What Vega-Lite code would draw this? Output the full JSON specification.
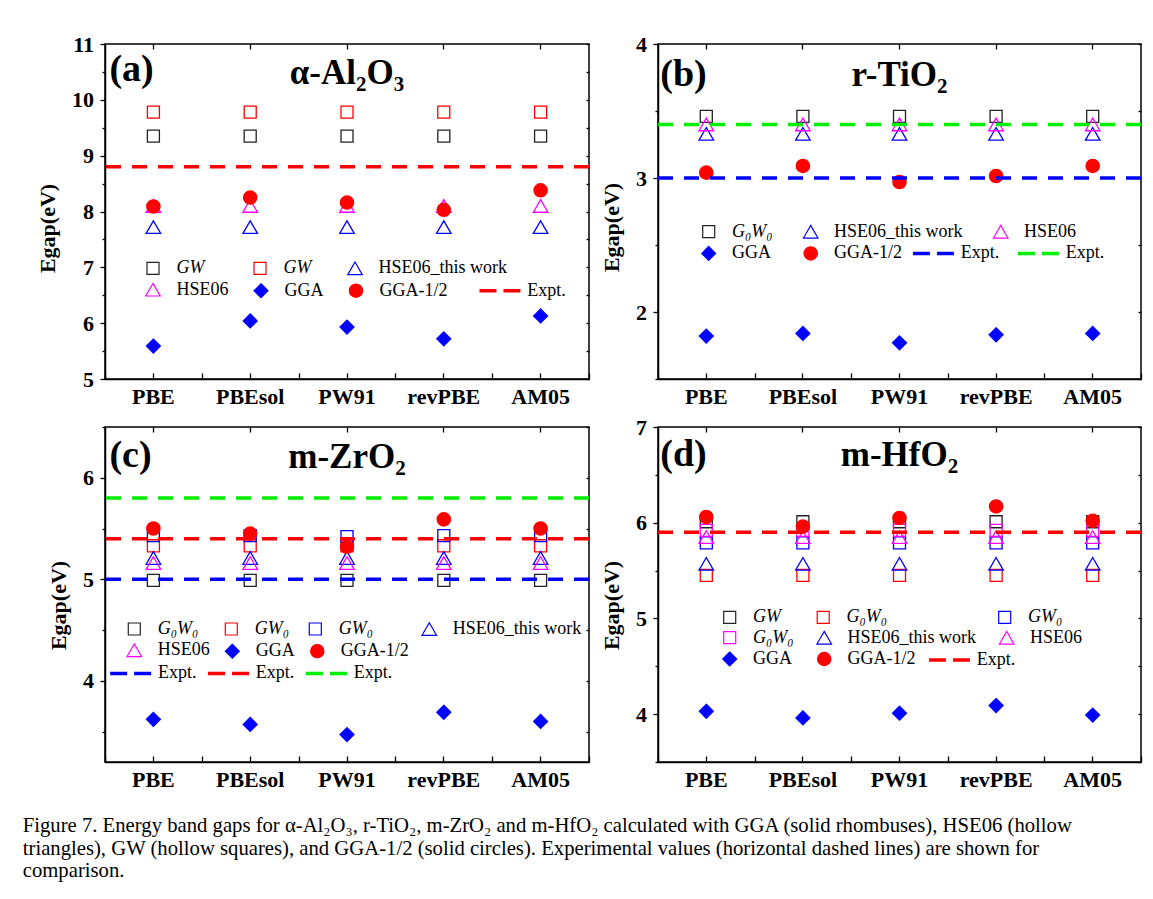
{
  "$schema": "https://vega.github.io/schema/vega-lite/v6.json",
  "background": "white",
  "padding": {"left": 22, "top": 32, "right": 5, "bottom": 5},
  "title": {
    "text": ["Figure 7. Energy band gaps for α-Al₂O₃, r-TiO₂, m-ZrO₂ and m-HfO₂ calculated with GGA (solid rhombuses), HSE06 (hollow", "triangles), GW (hollow squares), and GGA-1/2 (solid circles). Experimental values (horizontal dashed lines) are shown for", "comparison."],
    "orient": "bottom", "anchor": "start", "frame": "bounds", "dx": -13, "offset": 25,
    "font": "Liberation Serif", "fontSize": 20.7, "fontWeight": "normal", "lineHeight": 22.5, "color": "black"
  },
  "columns": 2,
  "spacing": {"row": 48, "column": 69},
  "bounds": "flush",
  "datasets": {
    "a_pts": [
      {"func": "PBE", "series": "GW#1", "Eg": 9.35}, {"func": "PBEsol", "series": "GW#1", "Eg": 9.35}, {"func": "PW91", "series": "GW#1", "Eg": 9.35}, {"func": "revPBE", "series": "GW#1", "Eg": 9.35}, {"func": "AM05", "series": "GW#1", "Eg": 9.35},
      {"func": "PBE", "series": "GW#2", "Eg": 9.78}, {"func": "PBEsol", "series": "GW#2", "Eg": 9.78}, {"func": "PW91", "series": "GW#2", "Eg": 9.78}, {"func": "revPBE", "series": "GW#2", "Eg": 9.78}, {"func": "AM05", "series": "GW#2", "Eg": 9.78},
      {"func": "PBE", "series": "HSE06_this work", "Eg": 7.72}, {"func": "PBEsol", "series": "HSE06_this work", "Eg": 7.72}, {"func": "PW91", "series": "HSE06_this work", "Eg": 7.72}, {"func": "revPBE", "series": "HSE06_this work", "Eg": 7.72}, {"func": "AM05", "series": "HSE06_this work", "Eg": 7.72},
      {"func": "PBE", "series": "HSE06", "Eg": 8.1}, {"func": "PBEsol", "series": "HSE06", "Eg": 8.1}, {"func": "PW91", "series": "HSE06", "Eg": 8.1}, {"func": "revPBE", "series": "HSE06", "Eg": 8.1}, {"func": "AM05", "series": "HSE06", "Eg": 8.1},
      {"func": "PBE", "series": "GGA", "Eg": 5.59}, {"func": "PBEsol", "series": "GGA", "Eg": 6.04}, {"func": "PW91", "series": "GGA", "Eg": 5.93}, {"func": "revPBE", "series": "GGA", "Eg": 5.72}, {"func": "AM05", "series": "GGA", "Eg": 6.13},
      {"func": "PBE", "series": "GGA-1/2", "Eg": 8.09}, {"func": "PBEsol", "series": "GGA-1/2", "Eg": 8.25}, {"func": "PW91", "series": "GGA-1/2", "Eg": 8.16}, {"func": "revPBE", "series": "GGA-1/2", "Eg": 8.03}, {"func": "AM05", "series": "GGA-1/2", "Eg": 8.38}
    ],
    "a_exp": [{"expt": "Expt.#r", "Eg": 8.8}],
    "b_pts": [
      {"func": "PBE", "series": "G₀W₀", "Eg": 3.46}, {"func": "PBEsol", "series": "G₀W₀", "Eg": 3.46}, {"func": "PW91", "series": "G₀W₀", "Eg": 3.46}, {"func": "revPBE", "series": "G₀W₀", "Eg": 3.46}, {"func": "AM05", "series": "G₀W₀", "Eg": 3.46},
      {"func": "PBE", "series": "HSE06_this work", "Eg": 3.33}, {"func": "PBEsol", "series": "HSE06_this work", "Eg": 3.33}, {"func": "PW91", "series": "HSE06_this work", "Eg": 3.33}, {"func": "revPBE", "series": "HSE06_this work", "Eg": 3.33}, {"func": "AM05", "series": "HSE06_this work", "Eg": 3.33},
      {"func": "PBE", "series": "HSE06", "Eg": 3.4}, {"func": "PBEsol", "series": "HSE06", "Eg": 3.4}, {"func": "PW91", "series": "HSE06", "Eg": 3.4}, {"func": "revPBE", "series": "HSE06", "Eg": 3.4}, {"func": "AM05", "series": "HSE06", "Eg": 3.4},
      {"func": "PBE", "series": "GGA", "Eg": 1.82}, {"func": "PBEsol", "series": "GGA", "Eg": 1.84}, {"func": "PW91", "series": "GGA", "Eg": 1.77}, {"func": "revPBE", "series": "GGA", "Eg": 1.83}, {"func": "AM05", "series": "GGA", "Eg": 1.84},
      {"func": "PBE", "series": "GGA-1/2", "Eg": 3.04}, {"func": "PBEsol", "series": "GGA-1/2", "Eg": 3.09}, {"func": "PW91", "series": "GGA-1/2", "Eg": 2.97}, {"func": "revPBE", "series": "GGA-1/2", "Eg": 3.015}, {"func": "AM05", "series": "GGA-1/2", "Eg": 3.09}
    ],
    "b_exp": [{"expt": "Expt.#b", "Eg": 3.0}, {"expt": "Expt.#g", "Eg": 3.4}],
    "c_pts": [
      {"func": "PBE", "series": "G₀W₀", "Eg": 4.99}, {"func": "PBEsol", "series": "G₀W₀", "Eg": 4.99}, {"func": "PW91", "series": "G₀W₀", "Eg": 4.99}, {"func": "revPBE", "series": "G₀W₀", "Eg": 4.99}, {"func": "AM05", "series": "G₀W₀", "Eg": 4.99},
      {"func": "PBE", "series": "GW₀#r", "Eg": 5.33}, {"func": "PBEsol", "series": "GW₀#r", "Eg": 5.33}, {"func": "PW91", "series": "GW₀#r", "Eg": 5.33}, {"func": "revPBE", "series": "GW₀#r", "Eg": 5.33}, {"func": "AM05", "series": "GW₀#r", "Eg": 5.33},
      {"func": "PBE", "series": "GW₀#b", "Eg": 5.43}, {"func": "PBEsol", "series": "GW₀#b", "Eg": 5.43}, {"func": "PW91", "series": "GW₀#b", "Eg": 5.42}, {"func": "revPBE", "series": "GW₀#b", "Eg": 5.43}, {"func": "AM05", "series": "GW₀#b", "Eg": 5.43},
      {"func": "PBE", "series": "HSE06_this work", "Eg": 5.21}, {"func": "PBEsol", "series": "HSE06_this work", "Eg": 5.21}, {"func": "PW91", "series": "HSE06_this work", "Eg": 5.21}, {"func": "revPBE", "series": "HSE06_this work", "Eg": 5.21}, {"func": "AM05", "series": "HSE06_this work", "Eg": 5.21},
      {"func": "PBE", "series": "HSE06", "Eg": 5.16}, {"func": "PBEsol", "series": "HSE06", "Eg": 5.16}, {"func": "PW91", "series": "HSE06", "Eg": 5.16}, {"func": "revPBE", "series": "HSE06", "Eg": 5.16}, {"func": "AM05", "series": "HSE06", "Eg": 5.16},
      {"func": "PBE", "series": "GGA", "Eg": 3.62}, {"func": "PBEsol", "series": "GGA", "Eg": 3.57}, {"func": "PW91", "series": "GGA", "Eg": 3.47}, {"func": "revPBE", "series": "GGA", "Eg": 3.69}, {"func": "AM05", "series": "GGA", "Eg": 3.6},
      {"func": "PBE", "series": "GGA-1/2", "Eg": 5.5}, {"func": "PBEsol", "series": "GGA-1/2", "Eg": 5.45}, {"func": "PW91", "series": "GGA-1/2", "Eg": 5.32}, {"func": "revPBE", "series": "GGA-1/2", "Eg": 5.59}, {"func": "AM05", "series": "GGA-1/2", "Eg": 5.5}
    ],
    "c_exp": [{"expt": "Expt.#b", "Eg": 5.0}, {"expt": "Expt.#r", "Eg": 5.4}, {"expt": "Expt.#g", "Eg": 5.8}],
    "d_pts": [
      {"func": "PBE", "series": "GW", "Eg": 6.01}, {"func": "PBEsol", "series": "GW", "Eg": 6.01}, {"func": "PW91", "series": "GW", "Eg": 6.01}, {"func": "revPBE", "series": "GW", "Eg": 6.01}, {"func": "AM05", "series": "GW", "Eg": 6.01},
      {"func": "PBE", "series": "G₀W₀#r", "Eg": 5.45}, {"func": "PBEsol", "series": "G₀W₀#r", "Eg": 5.45}, {"func": "PW91", "series": "G₀W₀#r", "Eg": 5.45}, {"func": "revPBE", "series": "G₀W₀#r", "Eg": 5.45}, {"func": "AM05", "series": "G₀W₀#r", "Eg": 5.45},
      {"func": "PBE", "series": "GW₀", "Eg": 5.79}, {"func": "PBEsol", "series": "GW₀", "Eg": 5.79}, {"func": "PW91", "series": "GW₀", "Eg": 5.79}, {"func": "revPBE", "series": "GW₀", "Eg": 5.79}, {"func": "AM05", "series": "GW₀", "Eg": 5.79},
      {"func": "PBE", "series": "G₀W₀#m", "Eg": 5.92}, {"func": "PBEsol", "series": "G₀W₀#m", "Eg": 5.92}, {"func": "PW91", "series": "G₀W₀#m", "Eg": 5.92}, {"func": "revPBE", "series": "G₀W₀#m", "Eg": 5.92}, {"func": "AM05", "series": "G₀W₀#m", "Eg": 5.92},
      {"func": "PBE", "series": "HSE06_this work", "Eg": 5.57}, {"func": "PBEsol", "series": "HSE06_this work", "Eg": 5.57}, {"func": "PW91", "series": "HSE06_this work", "Eg": 5.57}, {"func": "revPBE", "series": "HSE06_this work", "Eg": 5.57}, {"func": "AM05", "series": "HSE06_this work", "Eg": 5.57},
      {"func": "PBE", "series": "HSE06", "Eg": 5.85}, {"func": "PBEsol", "series": "HSE06", "Eg": 5.85}, {"func": "PW91", "series": "HSE06", "Eg": 5.85}, {"func": "revPBE", "series": "HSE06", "Eg": 5.85}, {"func": "AM05", "series": "HSE06", "Eg": 5.85},
      {"func": "PBE", "series": "GGA", "Eg": 4.03}, {"func": "PBEsol", "series": "GGA", "Eg": 3.96}, {"func": "PW91", "series": "GGA", "Eg": 4.01}, {"func": "revPBE", "series": "GGA", "Eg": 4.09}, {"func": "AM05", "series": "GGA", "Eg": 3.99},
      {"func": "PBE", "series": "GGA-1/2", "Eg": 6.06}, {"func": "PBEsol", "series": "GGA-1/2", "Eg": 5.96}, {"func": "PW91", "series": "GGA-1/2", "Eg": 6.05}, {"func": "revPBE", "series": "GGA-1/2", "Eg": 6.17}, {"func": "AM05", "series": "GGA-1/2", "Eg": 6.02}
    ],
    "d_exp": [{"expt": "Expt.#r", "Eg": 5.9}]
  },
  "concat": [
    {
      "width": 484, "height": 335,
      "layer": [
        {
          "data": {"name": "a_pts"},
          "mark": {"type": "point", "size": 160, "strokeWidth": 1.3, "opacity": 1, "filled": false},
          "encoding": {
            "x": {"field": "func", "type": "nominal", "scale": {"domain": ["PBE", "PBEsol", "PW91", "revPBE", "AM05"], "paddingInner": 0, "paddingOuter": 0}, "axis": {"orient": "bottom", "title": null, "labelAngle": 0, "tickSize": -6, "labelPadding": 13.5}},
            "y": {"field": "Eg", "type": "quantitative", "scale": {"domain": [5, 11], "nice": false, "zero": false}, "axis": {"orient": "left", "title": "Egap(eV)", "values": [5, 5.5, 6, 6.5, 7, 7.5, 8, 8.5, 9, 9.5, 10, 10.5, 11], "labelExpr": "datum.value % 1 === 0 ? format(datum.value, 'd') : ''", "tickSize": {"condition": {"test": "datum.value % 1 === 0", "value": 5}, "value": 3}, "labelPadding": 6.5, "titlePadding": 12, "titleY": 184, "labelOverlap": false}},
            "color": {"field": "series", "type": "nominal", "scale": {"domain": ["GW#1", "GW#2", "HSE06_this work", "HSE06", "GGA", "GGA-1/2"], "range": ["#222222", "#ff0000", "#0000ff", "#ff00ff", "#0000ff", "#ff0000"]},
              "legend": {"title": null, "orient": "none", "direction": "horizontal", "legendX": 39, "legendY": 215.4, "columns": 3, "gridAlign": "none", "columnPadding": 22, "rowPadding": 3.3, "symbolSize": 160, "symbolStrokeWidth": 1.2, "labelOffset": 14.4, "labelFontSize": 18, "labelExpr": "split(datum.label, '#')[0]",
                "labelFontStyle": {"expr": "indexof(datum.value,'W') >= 0 ? 'italic' : 'normal'"}}},
            "fill": {"field": "series", "type": "nominal", "scale": {"domain": ["GW#1", "GW#2", "HSE06_this work", "HSE06", "GGA", "GGA-1/2"], "range": ["transparent", "transparent", "transparent", "transparent", "#0000ff", "#ff0000"]}},
            "shape": {"field": "series", "type": "nominal", "scale": {"domain": ["GW#1", "GW#2", "HSE06_this work", "HSE06", "GGA", "GGA-1/2"], "range": ["M-0.95,-0.95H0.95V0.95H-0.95Z", "M-0.95,-0.95H0.95V0.95H-0.95Z", "M0,-1L1.15,1L-1.15,1Z", "M0,-1L1.15,1L-1.15,1Z", "M0,-1.1L1.1,0L0,1.1L-1.1,0Z", "M-1.05,0A1.05,1.05,0,1,0,1.05,0A1.05,1.05,0,1,0,-1.05,0Z"]}}
          }
        },
        {
          "data": {"name": "a_exp"},
          "mark": {"type": "rule", "strokeWidth": 3.5, "strokeDash": [15, 11]},
          "encoding": {
            "y": {"field": "Eg", "type": "quantitative", "scale": {"domain": [5, 11], "nice": false, "zero": false}, "axis": {"orient": "right", "title": null, "labels": false, "domain": false, "values": [5, 5.5, 6, 6.5, 7, 7.5, 8, 8.5, 9, 9.5, 10, 10.5, 11], "tickSize": -3}},
            "stroke": {"field": "expt", "type": "nominal", "scale": {"domain": ["Expt.#r"], "range": ["#ff0000"]},
              "legend": {"title": null, "orient": "none", "direction": "horizontal", "legendX": 386, "legendY": 237.7, "symbolType": "M-6.5,0H6.5", "symbolSize": 40, "symbolStrokeWidth": 3.5, "symbolDash": [17, 7], "labelOffset": 18.25, "labelFontSize": 18, "labelExpr": "split(datum.label, '#')[0]"}}
          }
        },
        {
          "data": {"values": [{}]},
          "mark": {"type": "text", "text": "(a)", "font": "Liberation Serif", "fontSize": 38, "fontWeight": "bold", "align": "left", "baseline": "alphabetic", "dx": -44, "color": "black"},
          "encoding": {
            "x": {"datum": "PBE", "type": "nominal", "scale": {"domain": ["PBE", "PBEsol", "PW91", "revPBE", "AM05"], "paddingInner": 0, "paddingOuter": 0}, "axis": {"orient": "bottom", "title": null, "labels": false, "domain": false, "tickBand": "extent", "tickSize": -6}},
            "y": {"datum": 10.34, "type": "quantitative", "scale": {"domain": [5, 11], "nice": false, "zero": false}, "axis": null}
          }
        },
        {
          "data": {"values": [{}]},
          "mark": {"type": "text", "text": "α-Al₂O₃", "font": "Liberation Serif", "fontSize": 35, "fontWeight": "bold", "align": "center", "baseline": "alphabetic", "color": "black"},
          "encoding": {
            "x": {"datum": "PW91", "type": "nominal", "scale": {"domain": ["PBE", "PBEsol", "PW91", "revPBE", "AM05"], "paddingInner": 0, "paddingOuter": 0}, "axis": {"orient": "top", "title": null, "labels": false, "domain": false, "tickSize": -5}},
            "y": {"datum": 10.28, "type": "quantitative", "scale": {"domain": [5, 11], "nice": false, "zero": false}, "axis": null}
          }
        }
      ],
      "resolve": {"axis": {"x": "independent", "y": "independent"}}
    },
    {
      "width": 483, "height": 335,
      "layer": [
        {
          "data": {"name": "b_pts"},
          "mark": {"type": "point", "size": 160, "strokeWidth": 1.3, "opacity": 1, "filled": false},
          "encoding": {
            "x": {"field": "func", "type": "nominal", "scale": {"domain": ["PBE", "PBEsol", "PW91", "revPBE", "AM05"], "paddingInner": 0, "paddingOuter": 0}, "axis": {"orient": "bottom", "title": null, "labelAngle": 0, "tickSize": -6, "labelPadding": 13.5}},
            "y": {"field": "Eg", "type": "quantitative", "scale": {"domain": [1.5, 4], "nice": false, "zero": false}, "axis": {"orient": "left", "title": "Egap(eV)", "values": [1.5, 2, 2.5, 3, 3.5, 4], "labelExpr": "datum.value % 1 === 0 ? format(datum.value, 'd') : ''", "tickSize": {"condition": {"test": "datum.value % 1 === 0", "value": 5}, "value": 3}, "labelPadding": 6.5, "titlePadding": 12, "titleY": 183, "labelOverlap": false}},
            "color": {"field": "series", "type": "nominal", "scale": {"domain": ["G₀W₀", "HSE06_this work", "HSE06", "GGA", "GGA-1/2"], "range": ["#222222", "#0000ff", "#ff00ff", "#0000ff", "#ff0000"]},
              "legend": {"title": null, "orient": "none", "direction": "horizontal", "legendX": 41.7, "legendY": 178.7, "columns": 3, "gridAlign": "none", "columnPadding": 28, "rowPadding": 2.7, "symbolSize": 160, "symbolStrokeWidth": 1.2, "labelOffset": 14.4, "labelFontSize": 18, "labelExpr": "split(datum.label, '#')[0]",
                "labelFontStyle": {"expr": "indexof(datum.value,'W') >= 0 ? 'italic' : 'normal'"}}},
            "fill": {"field": "series", "type": "nominal", "scale": {"domain": ["G₀W₀", "HSE06_this work", "HSE06", "GGA", "GGA-1/2"], "range": ["transparent", "transparent", "transparent", "#0000ff", "#ff0000"]}},
            "shape": {"field": "series", "type": "nominal", "scale": {"domain": ["G₀W₀", "HSE06_this work", "HSE06", "GGA", "GGA-1/2"], "range": ["M-0.95,-0.95H0.95V0.95H-0.95Z", "M0,-1L1.15,1L-1.15,1Z", "M0,-1L1.15,1L-1.15,1Z", "M0,-1.1L1.1,0L0,1.1L-1.1,0Z", "M-1.05,0A1.05,1.05,0,1,0,1.05,0A1.05,1.05,0,1,0,-1.05,0Z"]}}
          }
        },
        {
          "data": {"name": "b_exp"},
          "mark": {"type": "rule", "strokeWidth": 3.5, "strokeDash": [15, 11]},
          "encoding": {
            "y": {"field": "Eg", "type": "quantitative", "scale": {"domain": [1.5, 4], "nice": false, "zero": false}, "axis": {"orient": "right", "title": null, "labels": false, "domain": false, "values": [1.5, 2, 2.5, 3, 3.5, 4], "tickSize": -3}},
            "stroke": {"field": "expt", "type": "nominal", "scale": {"domain": ["Expt.#b", "Expt.#g"], "range": ["#0000ff", "#00ee00"]},
              "legend": {"title": null, "orient": "none", "direction": "horizontal", "legendX": 266.5, "legendY": 200.4, "columns": 2, "gridAlign": "none", "columnPadding": 11, "symbolType": "M-6.5,0H6.5", "symbolSize": 40, "symbolStrokeWidth": 3.5, "symbolDash": [17, 7], "labelOffset": 18.25, "labelFontSize": 18, "labelExpr": "split(datum.label, '#')[0]"}}
          }
        },
        {
          "data": {"values": [{}]},
          "mark": {"type": "text", "text": "(b)", "font": "Liberation Serif", "fontSize": 38, "fontWeight": "bold", "align": "left", "baseline": "alphabetic", "dx": -46, "color": "black"},
          "encoding": {
            "x": {"datum": "PBE", "type": "nominal", "scale": {"domain": ["PBE", "PBEsol", "PW91", "revPBE", "AM05"], "paddingInner": 0, "paddingOuter": 0}, "axis": {"orient": "bottom", "title": null, "labels": false, "domain": false, "tickBand": "extent", "tickSize": -6}},
            "y": {"datum": 3.687, "type": "quantitative", "scale": {"domain": [1.5, 4], "nice": false, "zero": false}, "axis": null}
          }
        },
        {
          "data": {"values": [{}]},
          "mark": {"type": "text", "text": "r-TiO₂", "font": "Liberation Serif", "fontSize": 35, "fontWeight": "bold", "align": "center", "baseline": "alphabetic", "color": "black"},
          "encoding": {
            "x": {"datum": "PW91", "type": "nominal", "scale": {"domain": ["PBE", "PBEsol", "PW91", "revPBE", "AM05"], "paddingInner": 0, "paddingOuter": 0}, "axis": {"orient": "top", "title": null, "labels": false, "domain": false, "tickSize": -5}},
            "y": {"datum": 3.685, "type": "quantitative", "scale": {"domain": [1.5, 4], "nice": false, "zero": false}, "axis": null}
          }
        }
      ],
      "resolve": {"axis": {"x": "independent", "y": "independent"}}
    },
    {
      "width": 484, "height": 335,
      "layer": [
        {
          "data": {"name": "c_pts"},
          "mark": {"type": "point", "size": 160, "strokeWidth": 1.3, "opacity": 1, "filled": false},
          "encoding": {
            "x": {"field": "func", "type": "nominal", "scale": {"domain": ["PBE", "PBEsol", "PW91", "revPBE", "AM05"], "paddingInner": 0, "paddingOuter": 0}, "axis": {"orient": "bottom", "title": null, "labelAngle": 0, "tickSize": -6, "labelPadding": 13.5}},
            "y": {"field": "Eg", "type": "quantitative", "scale": {"domain": [3.2, 6.5], "nice": false, "zero": false}, "axis": {"orient": "left", "title": "Egap(eV)", "values": [3.5, 4, 4.5, 5, 5.5, 6, 6.5], "labelExpr": "datum.value % 1 === 0 ? format(datum.value, 'd') : ''", "tickSize": {"condition": {"test": "datum.value % 1 === 0", "value": 5}, "value": 3}, "labelPadding": 6.5, "titlePadding": 12, "titleY": 178, "labelOverlap": false}},
            "color": {"field": "series", "type": "nominal", "scale": {"domain": ["G₀W₀", "GW₀#r", "GW₀#b", "HSE06_this work", "HSE06", "GGA", "GGA-1/2"], "range": ["#222222", "#ff0000", "#0000ff", "#0000ff", "#ff00ff", "#0000ff", "#ff0000"]},
              "legend": {"title": null, "orient": "none", "direction": "horizontal", "legendX": 20.3, "legendY": 193, "columns": 4, "gridAlign": "none", "columnPadding": 12, "rowPadding": 3.2, "symbolSize": 160, "symbolStrokeWidth": 1.2, "labelOffset": 14.4, "labelFontSize": 18, "labelExpr": "split(datum.label, '#')[0]",
                "labelFontStyle": {"expr": "indexof(datum.value,'W') >= 0 ? 'italic' : 'normal'"}}},
            "fill": {"field": "series", "type": "nominal", "scale": {"domain": ["G₀W₀", "GW₀#r", "GW₀#b", "HSE06_this work", "HSE06", "GGA", "GGA-1/2"], "range": ["transparent", "transparent", "transparent", "transparent", "transparent", "#0000ff", "#ff0000"]}},
            "shape": {"field": "series", "type": "nominal", "scale": {"domain": ["G₀W₀", "GW₀#r", "GW₀#b", "HSE06_this work", "HSE06", "GGA", "GGA-1/2"], "range": ["M-0.95,-0.95H0.95V0.95H-0.95Z", "M-0.95,-0.95H0.95V0.95H-0.95Z", "M-0.95,-0.95H0.95V0.95H-0.95Z", "M0,-1L1.15,1L-1.15,1Z", "M0,-1L1.15,1L-1.15,1Z", "M0,-1.1L1.1,0L0,1.1L-1.1,0Z", "M-1.05,0A1.05,1.05,0,1,0,1.05,0A1.05,1.05,0,1,0,-1.05,0Z"]}}
          }
        },
        {
          "data": {"name": "c_exp"},
          "mark": {"type": "rule", "strokeWidth": 3.5, "strokeDash": [15, 11]},
          "encoding": {
            "y": {"field": "Eg", "type": "quantitative", "scale": {"domain": [3.2, 6.5], "nice": false, "zero": false}, "axis": {"orient": "right", "title": null, "labels": false, "domain": false, "values": [3.5, 4, 4.5, 5, 5.5, 6, 6.5], "tickSize": -3}},
            "stroke": {"field": "expt", "type": "nominal", "scale": {"domain": ["Expt.#b", "Expt.#r", "Expt.#g"], "range": ["#0000ff", "#ff0000", "#00ee00"]},
              "legend": {"title": null, "orient": "none", "direction": "horizontal", "legendX": 16.7, "legendY": 237.4, "columns": 3, "gridAlign": "none", "columnPadding": 3.9, "symbolType": "M-6.5,0H6.5", "symbolSize": 40, "symbolStrokeWidth": 3.5, "symbolDash": [17, 7], "labelOffset": 18.25, "labelFontSize": 18, "labelExpr": "split(datum.label, '#')[0]"}}
          }
        },
        {
          "data": {"values": [{}]},
          "mark": {"type": "text", "text": "(c)", "font": "Liberation Serif", "fontSize": 38, "fontWeight": "bold", "align": "left", "baseline": "alphabetic", "dx": -44, "color": "black"},
          "encoding": {
            "x": {"datum": "PBE", "type": "nominal", "scale": {"domain": ["PBE", "PBEsol", "PW91", "revPBE", "AM05"], "paddingInner": 0, "paddingOuter": 0}, "axis": {"orient": "bottom", "title": null, "labels": false, "domain": false, "tickBand": "extent", "tickSize": -6}},
            "y": {"datum": 6.11, "type": "quantitative", "scale": {"domain": [3.2, 6.5], "nice": false, "zero": false}, "axis": null}
          }
        },
        {
          "data": {"values": [{}]},
          "mark": {"type": "text", "text": "m-ZrO₂", "font": "Liberation Serif", "fontSize": 35, "fontWeight": "bold", "align": "center", "baseline": "alphabetic", "color": "black"},
          "encoding": {
            "x": {"datum": "PW91", "type": "nominal", "scale": {"domain": ["PBE", "PBEsol", "PW91", "revPBE", "AM05"], "paddingInner": 0, "paddingOuter": 0}, "axis": {"orient": "top", "title": null, "labels": false, "domain": false, "tickSize": -5}},
            "y": {"datum": 6.1, "type": "quantitative", "scale": {"domain": [3.2, 6.5], "nice": false, "zero": false}, "axis": null}
          }
        }
      ],
      "resolve": {"axis": {"x": "independent", "y": "independent"}}
    },
    {
      "width": 483, "height": 335,
      "layer": [
        {
          "data": {"name": "d_pts"},
          "mark": {"type": "point", "size": 160, "strokeWidth": 1.3, "opacity": 1, "filled": false},
          "encoding": {
            "x": {"field": "func", "type": "nominal", "scale": {"domain": ["PBE", "PBEsol", "PW91", "revPBE", "AM05"], "paddingInner": 0, "paddingOuter": 0}, "axis": {"orient": "bottom", "title": null, "labelAngle": 0, "tickSize": -6, "labelPadding": 13.5}},
            "y": {"field": "Eg", "type": "quantitative", "scale": {"domain": [3.5, 7], "nice": false, "zero": false}, "axis": {"orient": "left", "title": "Egap(eV)", "values": [3.5, 4, 4.5, 5, 5.5, 6, 6.5, 7], "labelExpr": "datum.value % 1 === 0 ? format(datum.value, 'd') : ''", "tickSize": {"condition": {"test": "datum.value % 1 === 0", "value": 5}, "value": 3}, "labelPadding": 6.5, "titlePadding": 12, "titleY": 178, "labelOverlap": false}},
            "color": {"field": "series", "type": "nominal", "scale": {"domain": ["GW", "G₀W₀#r", "GW₀", "G₀W₀#m", "HSE06_this work", "HSE06", "GGA", "GGA-1/2"], "range": ["#222222", "#ff0000", "#0000ff", "#ff00ff", "#0000ff", "#ff00ff", "#0000ff", "#ff0000"]},
              "legend": {"title": null, "orient": "none", "direction": "horizontal", "legendX": 62.7, "legendY": 181.4, "columns": 3, "gridAlign": "none", "columnPadding": 20.5, "rowPadding": 2.3, "symbolSize": 160, "symbolStrokeWidth": 1.2, "labelOffset": 14.4, "labelFontSize": 18, "labelExpr": "split(datum.label, '#')[0]",
                "labelFontStyle": {"expr": "indexof(datum.value,'W') >= 0 ? 'italic' : 'normal'"}}},
            "fill": {"field": "series", "type": "nominal", "scale": {"domain": ["GW", "G₀W₀#r", "GW₀", "G₀W₀#m", "HSE06_this work", "HSE06", "GGA", "GGA-1/2"], "range": ["transparent", "transparent", "transparent", "transparent", "transparent", "transparent", "#0000ff", "#ff0000"]}},
            "shape": {"field": "series", "type": "nominal", "scale": {"domain": ["GW", "G₀W₀#r", "GW₀", "G₀W₀#m", "HSE06_this work", "HSE06", "GGA", "GGA-1/2"], "range": ["M-0.95,-0.95H0.95V0.95H-0.95Z", "M-0.95,-0.95H0.95V0.95H-0.95Z", "M-0.95,-0.95H0.95V0.95H-0.95Z", "M-0.95,-0.95H0.95V0.95H-0.95Z", "M0,-1L1.15,1L-1.15,1Z", "M0,-1L1.15,1L-1.15,1Z", "M0,-1.1L1.1,0L0,1.1L-1.1,0Z", "M-1.05,0A1.05,1.05,0,1,0,1.05,0A1.05,1.05,0,1,0,-1.05,0Z"]}}
          }
        },
        {
          "data": {"name": "d_exp"},
          "mark": {"type": "rule", "strokeWidth": 3.5, "strokeDash": [15, 11]},
          "encoding": {
            "y": {"field": "Eg", "type": "quantitative", "scale": {"domain": [3.5, 7], "nice": false, "zero": false}, "axis": {"orient": "right", "title": null, "labels": false, "domain": false, "values": [3.5, 4, 4.5, 5, 5.5, 6, 6.5, 7], "tickSize": -3}},
            "stroke": {"field": "expt", "type": "nominal", "scale": {"domain": ["Expt.#r"], "range": ["#ff0000"]},
              "legend": {"title": null, "orient": "none", "direction": "horizontal", "legendX": 282.5, "legendY": 224, "symbolType": "M-6.5,0H6.5", "symbolSize": 40, "symbolStrokeWidth": 3.5, "symbolDash": [17, 7], "labelOffset": 18.25, "labelFontSize": 18, "labelExpr": "split(datum.label, '#')[0]"}}
          }
        },
        {
          "data": {"values": [{}]},
          "mark": {"type": "text", "text": "(d)", "font": "Liberation Serif", "fontSize": 38, "fontWeight": "bold", "align": "left", "baseline": "alphabetic", "dx": -46, "color": "black"},
          "encoding": {
            "x": {"datum": "PBE", "type": "nominal", "scale": {"domain": ["PBE", "PBEsol", "PW91", "revPBE", "AM05"], "paddingInner": 0, "paddingOuter": 0}, "axis": {"orient": "bottom", "title": null, "labels": false, "domain": false, "tickBand": "extent", "tickSize": -6}},
            "y": {"datum": 6.59, "type": "quantitative", "scale": {"domain": [3.5, 7], "nice": false, "zero": false}, "axis": null}
          }
        },
        {
          "data": {"values": [{}]},
          "mark": {"type": "text", "text": "m-HfO₂", "font": "Liberation Serif", "fontSize": 35, "fontWeight": "bold", "align": "center", "baseline": "alphabetic", "color": "black"},
          "encoding": {
            "x": {"datum": "PW91", "type": "nominal", "scale": {"domain": ["PBE", "PBEsol", "PW91", "revPBE", "AM05"], "paddingInner": 0, "paddingOuter": 0}, "axis": {"orient": "top", "title": null, "labels": false, "domain": false, "tickSize": -5}},
            "y": {"datum": 6.59, "type": "quantitative", "scale": {"domain": [3.5, 7], "nice": false, "zero": false}, "axis": null}
          }
        }
      ],
      "resolve": {"axis": {"x": "independent", "y": "independent"}}
    }
  ],
  "resolve": {"scale": {"color": "independent", "fill": "independent", "shape": "independent", "stroke": "independent", "x": "independent", "y": "independent"}},
  "config": {
    "font": "Liberation Serif",
    "view": {"stroke": "black", "strokeWidth": 1.5},
    "axis": {"labelFont": "Liberation Serif", "labelFontSize": 22, "labelFontWeight": "bold", "labelColor": "black", "titleFont": "Liberation Serif", "titleFontSize": 22, "titleFontWeight": "bold", "titleColor": "black", "domainColor": "black", "domainWidth": 1.5, "tickColor": "black", "tickWidth": 1.3, "grid": false},
    "legend": {"labelFont": "Liberation Serif", "labelFontSize": 18, "labelColor": "black", "padding": 0},
    "title": {"font": "Liberation Serif"}
  }
}
